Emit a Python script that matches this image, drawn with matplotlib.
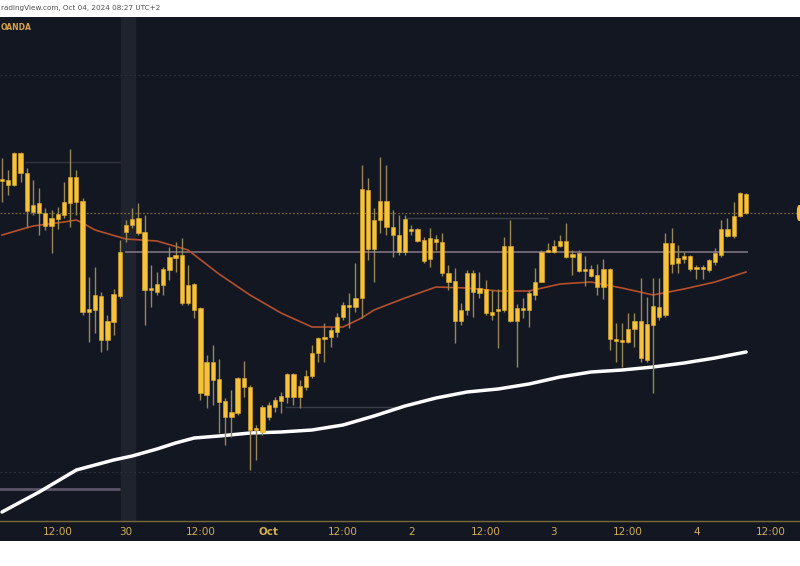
import matplotlib.pyplot as plt
import numpy as np
from matplotlib.patches import Rectangle, FancyBboxPatch

# Hourly candles (XAUUSD, OANDA), Sep 27 -> Oct 04 2024
opens = [2661.9, 2662.0, 2661.5, 2664.7, 2662.7, 2658.8, 2659.7, 2658.7, 2657.4, 2658.1,
         2658.5, 2659.7, 2662.3, 2659.9, 2648.8, 2649.0, 2650.4, 2646.0, 2647.8, 2650.4,
         2656.8, 2657.5, 2658.2, 2656.8, 2651.0, 2650.8, 2651.5, 2653.0, 2654.2, 2654.5,
         2649.7, 2651.6, 2649.2, 2640.5, 2643.8, 2642.1, 2639.9, 2638.3, 2638.7, 2642.2,
         2641.3, 2637.0, 2636.8, 2638.3, 2639.3, 2639.9, 2640.3, 2642.6, 2640.3, 2641.3,
         2642.4, 2644.7, 2646.1, 2646.3, 2646.8, 2648.3, 2649.5, 2649.3, 2650.2, 2661.0,
         2655.1, 2658.0, 2659.9, 2657.3, 2656.5, 2654.8, 2657.1, 2657.1, 2656.0, 2654.1,
         2656.1, 2655.8, 2652.7, 2651.9, 2647.9, 2649.0, 2652.7, 2650.7, 2651.1, 2648.8,
         2648.9, 2649.0, 2655.4, 2647.9, 2649.2, 2649.0, 2650.5, 2651.8, 2654.8, 2654.8,
         2655.4, 2655.9, 2654.3, 2654.7, 2652.9, 2653.1, 2652.5, 2651.3, 2653.1, 2646.1,
         2646.0, 2645.8, 2647.1, 2647.9, 2644.0, 2647.5, 2649.3, 2648.5, 2655.7, 2653.7,
         2654.1, 2654.4, 2653.1, 2653.3, 2653.0, 2653.8, 2654.5, 2657.1, 2656.4, 2658.4,
         2660.6]
closes = [2662.1, 2661.5, 2664.7, 2662.7, 2658.9, 2659.5, 2658.7, 2657.4, 2658.2, 2658.6,
          2659.8, 2662.3, 2659.8, 2648.8, 2649.1, 2650.5, 2646.0, 2647.9, 2650.6, 2654.8,
          2657.5, 2658.1, 2656.7, 2651.0, 2651.2, 2651.6, 2653.1, 2654.3, 2654.5, 2649.7,
          2651.5, 2649.0, 2640.7, 2643.8, 2642.0, 2639.8, 2638.3, 2638.8, 2642.2, 2641.3,
          2637.0, 2637.2, 2639.3, 2639.5, 2640.0, 2640.4, 2642.6, 2640.3, 2641.4, 2642.4,
          2644.7, 2646.2, 2646.3, 2647.0, 2648.3, 2649.5, 2649.3, 2650.2, 2661.1, 2655.1,
          2658.0, 2659.9, 2657.3, 2656.5, 2654.8, 2658.1, 2656.9, 2655.9, 2653.9, 2656.2,
          2655.8, 2652.7, 2651.8, 2647.9, 2649.0, 2652.7, 2650.8, 2651.2, 2648.7, 2648.5,
          2649.1, 2655.4, 2647.9, 2649.2, 2649.0, 2650.7, 2651.8, 2654.8, 2655.0, 2655.4,
          2655.9, 2654.3, 2654.6, 2652.9, 2653.1, 2652.4, 2651.3, 2653.1, 2646.1, 2645.9,
          2645.8, 2647.1, 2647.9, 2644.2, 2647.6, 2649.4, 2648.3, 2655.7, 2653.6, 2654.2,
          2654.4, 2653.1, 2653.3, 2653.1, 2654.0, 2654.7, 2657.1, 2656.4, 2658.4, 2660.7,
          2658.7]
highs = [2664.2, 2663.0, 2664.8, 2664.8, 2663.2, 2662.0, 2661.2, 2659.2, 2659.0, 2659.3,
         2661.8, 2665.1, 2663.0, 2660.2, 2652.3, 2653.3, 2650.8, 2648.5, 2651.1, 2656.0,
         2658.0, 2659.2, 2659.7, 2658.5, 2653.5, 2652.8, 2653.3, 2655.3, 2655.8, 2656.2,
         2653.5, 2651.7, 2649.3, 2644.5, 2645.5, 2644.1, 2640.2, 2641.0, 2642.3, 2643.9,
         2641.5, 2637.5, 2639.5, 2639.8, 2640.3, 2640.8, 2642.7, 2642.7, 2642.0, 2643.0,
         2645.5, 2646.3, 2647.7, 2647.3, 2648.7, 2649.8, 2650.7, 2653.7, 2663.5, 2662.2,
         2659.2, 2664.3, 2663.5, 2659.0, 2658.5, 2658.5, 2657.5, 2657.2, 2656.3, 2657.2,
         2656.5, 2656.7, 2653.5, 2653.2, 2649.7, 2653.0, 2653.0, 2652.8, 2652.0, 2651.0,
         2651.1, 2656.3, 2658.0, 2649.6, 2650.2, 2651.0, 2653.2, 2655.0, 2655.7, 2656.0,
         2656.5, 2657.7, 2655.0, 2655.0, 2654.4, 2653.5, 2653.6, 2654.1, 2653.2, 2647.7,
         2647.7, 2648.7, 2648.7, 2652.2, 2650.3, 2652.2, 2652.2, 2656.7, 2657.2, 2655.5,
         2654.8, 2654.5, 2653.5, 2653.5, 2654.1, 2655.2, 2658.0, 2658.2, 2659.8, 2660.8,
         2660.7]
lows = [2659.8, 2660.5, 2661.4, 2661.8, 2657.3, 2658.5, 2656.5, 2657.0, 2654.7, 2657.1,
        2658.2, 2657.3, 2658.5, 2648.5, 2645.8, 2646.7, 2644.8, 2645.0, 2646.5, 2650.2,
        2655.8, 2657.2, 2656.5, 2647.5, 2649.3, 2650.5, 2650.5, 2652.0, 2652.8, 2649.5,
        2649.5, 2648.2, 2640.0, 2639.2, 2639.5, 2636.7, 2635.5, 2636.3, 2638.5, 2640.3,
        2633.0, 2634.0, 2636.5, 2638.0, 2638.8, 2638.7, 2639.7, 2639.5, 2639.2, 2641.0,
        2642.2, 2643.8, 2643.8, 2645.3, 2646.3, 2648.0, 2647.2, 2648.8, 2648.2, 2654.0,
        2651.8, 2656.7, 2656.5, 2654.3, 2654.5, 2654.5, 2656.5, 2655.8, 2653.7, 2653.3,
        2655.0, 2652.4, 2651.0, 2645.7, 2647.5, 2648.5, 2648.3, 2650.2, 2648.5, 2648.0,
        2645.2, 2648.8, 2647.8, 2643.3, 2648.2, 2647.3, 2650.0, 2651.8, 2654.8, 2654.7,
        2655.3, 2654.2, 2652.5, 2652.8, 2651.4, 2652.3, 2650.5, 2650.1, 2645.0, 2643.8,
        2643.3, 2645.7, 2645.3, 2643.8, 2643.8, 2640.7, 2648.0, 2648.3, 2652.7, 2652.7,
        2653.7, 2652.9, 2652.1, 2652.1, 2652.8, 2653.5, 2654.3, 2656.3, 2656.2, 2658.3,
        2658.6]

# moving averages at some candles
ma_fast_idx = [0, 5, 10, 12, 13, 15, 20, 25, 30, 35, 40, 45, 50, 55, 58, 60, 65, 70,
               75, 80, 85, 90, 95, 100, 105, 110, 115, 120]
ma_fast = [2656.5, 2657.4, 2657.8, 2658.0, 2657.7, 2657.0, 2656.1, 2655.9, 2655.0, 2652.6,
           2650.5, 2648.7, 2647.3, 2647.3, 2648.2, 2649.0, 2650.2, 2651.3, 2651.2, 2650.9,
           2650.9, 2651.6, 2651.8, 2651.2, 2650.5, 2651.1, 2651.8, 2652.8]
ma_slow_idx = [0, 3, 6, 9, 12, 15, 18, 21, 25, 28, 31, 35, 40, 45, 50, 55, 60, 65, 70,
               75, 80, 85, 90, 95, 100, 105, 110, 115, 120]
ma_slow = [2628.8, 2629.8, 2630.8, 2631.9, 2633.0, 2633.5, 2634.0, 2634.4, 2635.1, 2635.7,
           2636.2, 2636.4, 2636.7, 2636.8, 2637.0, 2637.5, 2638.4, 2639.4, 2640.2, 2640.8,
           2641.1, 2641.6, 2642.3, 2642.8, 2643.0, 2643.3, 2643.7, 2644.2, 2644.8]

# horizontal levels drawn on the chart: price, first candle, last candle
level_price = [2663.8, 2654.8, 2658.2, 2639.3, 2631.1]
level_start = [3.7, 19.8, 65, 45.6, -1]
level_end = [19, 120.3, 88, 64.2, 19]
level_color = ['#33343f', '#7d7480', '#3a3d4a', '#3a3d4a', '#5e5468']
level_width = [1, 1.2, 1, 1, 2]

grid_prices = [2672.5, 2632.8]
last_price = 2658.7

tick_pos = [9, 20, 32, 43, 55, 66, 78, 89, 101, 112, 124]
tick_labels = ['12:00', '30', '12:00', 'Oct', '12:00', '2', '12:00', '3', '12:00', '4', '12:00']

BG = '#131722'
BODY = '#f6c23c'
WICK = '#9a8758'
TXT = '#d2ad55'

fig = plt.figure(figsize=(8, 5.66), dpi=100, facecolor='white')
ax = fig.add_axes([0, 45 / 566, 1, 504 / 566])
ax.set_facecolor(BG)

# dark strip under the chart holding the time labels
fig.patches.append(Rectangle((0, 25 / 566), 1, 20 / 566, transform=fig.transFigure,
                             facecolor=BG, edgecolor='none', zorder=-5))

x = np.arange(len(opens))
o = np.array(opens)
c = np.array(closes)

# session band
ax.axvspan(19.2, 21.4, color='#1f232e', zorder=0)

for p in grid_prices:
    ax.axhline(p, color='#2a2e3a', lw=0.8, ls=(0, (2, 2)), zorder=1)

for p, a, b, col, w in zip(level_price, level_start, level_end, level_color, level_width):
    ax.hlines(p, a, b, color=col, lw=w, zorder=1)

ax.axhline(last_price, color='#7a6534', lw=0.9, ls=(0, (1.5, 1.5)), zorder=1)

ax.plot(ma_fast_idx, ma_fast, color='#b4502c', lw=1.2, zorder=2)
ax.plot(ma_slow_idx, ma_slow, color='white', lw=2.5, zorder=2, solid_capstyle='round')

# candles
ax.vlines(x, lows, highs, color=WICK, lw=1, zorder=3)
bottoms = np.minimum(o, c)
heights = np.maximum(np.abs(c - o), 0.18)
ax.bar(x, heights, bottom=bottoms, width=0.68, color=BODY, edgecolor='#e0ac2a',
       linewidth=0.4, zorder=4)

# last price tag, mostly hidden past the right edge
tag = FancyBboxPatch((128.2, last_price - 0.8), 4, 1.6, boxstyle='round,pad=0,rounding_size=0.4',
                     facecolor=BODY, edgecolor='none', clip_on=False, zorder=5,
                     mutation_aspect=1.5)
ax.add_patch(tag)

ax.set_xlim(-0.32, 128.7)
ax.set_ylim(2627.9, 2678.3)
ax.set_yticks([])
ax.set_xticks(tick_pos)
ax.set_xticklabels(tick_labels, fontsize=7.5, color=TXT,
                   family=['Liberation Sans Narrow', 'DejaVu Sans'])
for lbl in ax.get_xticklabels():
    if lbl.get_text() == 'Oct':
        lbl.set_fontweight('bold')
ax.tick_params(axis='x', length=0, pad=4)
for s in ['top', 'left', 'right']:
    ax.spines[s].set_visible(False)
ax.spines['bottom'].set_color('#7c6a35')
ax.spines['bottom'].set_linewidth(1)

ax.text(1 / 800, 1 - 10 / 504, 'OANDA', transform=ax.transAxes, fontsize=5.5,
        color='#d8a048', fontweight='bold', va='center', ha='left')

# header as it shows in the cropped screenshot
fig.text(1 / 800, 1 - 8 / 566, 'radingView.com, Oct 04, 2024 08:27 UTC+2', fontsize=5.2,
         color='#505050', va='center', ha='left')

plt.savefig('out.png', dpi=100, facecolor='white')
plt.close()
